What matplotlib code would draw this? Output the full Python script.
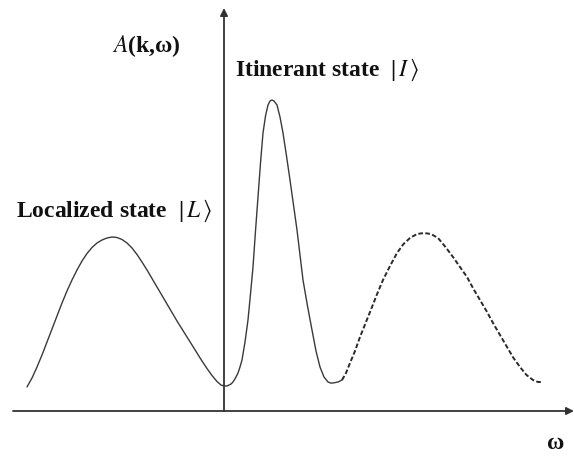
import matplotlib
matplotlib.use("Agg")
import matplotlib.pyplot as plt

plt.rcParams['mathtext.fontset'] = 'stix'
plt.rcParams['font.family'] = ['Liberation Serif', 'DejaVu Serif']

# Spectral function A(k, w) (schematic)
omega_solid = [-1.97, -1.92, -1.87, -1.82, -1.77, -1.72, -1.67, -1.62, -1.57, -1.52,
               -1.47, -1.42, -1.37, -1.32, -1.27, -1.22, -1.17, -1.12, -1.07, -1.02,
               -0.97, -0.92, -0.87, -0.82, -0.77, -0.72, -0.67, -0.62, -0.57, -0.52,
               -0.47, -0.42, -0.37, -0.32, -0.27, -0.22, -0.17, -0.12, -0.07, -0.03,
               0.00, 0.03, 0.05, 0.07, 0.09, 0.115, 0.14, 0.16, 0.18, 0.195,
               0.21, 0.225, 0.24, 0.265, 0.29, 0.315, 0.34, 0.365, 0.39, 0.415,
               0.44, 0.46, 0.48, 0.50, 0.53, 0.56, 0.59, 0.625, 0.66, 0.695,
               0.73, 0.76, 0.79, 0.835, 0.88, 0.92, 0.96, 1.00, 1.04, 1.065,
               1.09, 1.14, 1.18]
A_solid = [0.24, 0.33, 0.44, 0.56, 0.69, 0.82, 0.95, 1.08, 1.20, 1.31,
           1.41, 1.50, 1.575, 1.635, 1.68, 1.71, 1.73, 1.74, 1.735, 1.715,
           1.68, 1.63, 1.565, 1.49, 1.41, 1.325, 1.24, 1.155, 1.07, 0.985,
           0.90, 0.82, 0.74, 0.66, 0.58, 0.50, 0.425, 0.355, 0.295, 0.26,
           0.25, 0.25, 0.26, 0.27, 0.29, 0.33, 0.38, 0.44, 0.51, 0.60,
           0.69, 0.80, 0.91, 1.17, 1.44, 1.80, 2.14, 2.48, 2.78, 2.95,
           3.06, 3.10, 3.11, 3.10, 3.06, 2.94, 2.78, 2.55, 2.31, 2.06,
           1.81, 1.56, 1.31, 1.05, 0.81, 0.60, 0.44, 0.34, 0.29, 0.28,
           0.28, 0.29, 0.31]

omega_dashed = [1.18, 1.22, 1.26, 1.31, 1.36, 1.42, 1.48, 1.535, 1.59, 1.66,
                1.73, 1.795, 1.86, 1.93, 2.00, 2.07, 2.14, 2.215, 2.29, 2.36,
                2.43, 2.495, 2.56, 2.625, 2.69, 2.76, 2.83, 2.895, 2.96, 3.025,
                3.09, 3.14, 3.19]
A_dashed = [0.31, 0.38, 0.48, 0.60, 0.74, 0.89, 1.04, 1.18, 1.31, 1.45,
            1.58, 1.67, 1.73, 1.77, 1.78, 1.77, 1.73, 1.64, 1.54, 1.44,
            1.34, 1.22, 1.11, 1.00, 0.88, 0.76, 0.64, 0.53, 0.44, 0.36,
            0.31, 0.29, 0.29]

label_localized = r"Localized state  |$\,L\,\rangle$"
label_itinerant = r"Itinerant state  |$\,I\,\rangle$"
label_y = r"$A$(k,ω)"
label_x = "ω"

fig = plt.figure(figsize=(5.74, 4.61), dpi=100)
ax = fig.add_axes([0, 0, 1, 1])
ax.set_xlim(-2.24, 3.50)
ax.set_ylim(-0.50, 4.11)
ax.axis('off')

axis_col = '#333333'
ax.annotate('', xy=(3.50, 0), xytext=(-2.11, 0),
            arrowprops=dict(arrowstyle='-|>', color=axis_col, lw=1.3,
                            mutation_scale=11, shrinkA=0, shrinkB=0))
ax.annotate('', xy=(0, 4.03), xytext=(0, 0),
            arrowprops=dict(arrowstyle='-|>', color=axis_col, lw=1.3,
                            mutation_scale=11, shrinkA=0, shrinkB=0))

ax.plot(omega_solid, A_solid, color='#3a3a3a', lw=1.0,
        solid_capstyle='round', solid_joinstyle='round')
ax.plot(omega_dashed, A_dashed, color='#2a2a2a', lw=1.4, linestyle=(0, (2.4, 1.2)))

fs = 17
ax.text(-2.08, 1.94, label_localized, fontsize=fs, fontweight='bold',
        ha='left', va='baseline', color='#111111')
ax.text(0.11, 3.35, label_itinerant, fontsize=fs, fontweight='bold',
        ha='left', va='baseline', color='#111111')
ax.text(-1.12, 3.59, label_y, fontsize=fs, fontweight='bold',
        ha='left', va='baseline', color='#111111')
ax.text(3.32, -0.32, label_x, fontsize=fs, fontweight='bold',
        ha='center', va='center', color='#111111')

fig.savefig('out.png', dpi=100)
